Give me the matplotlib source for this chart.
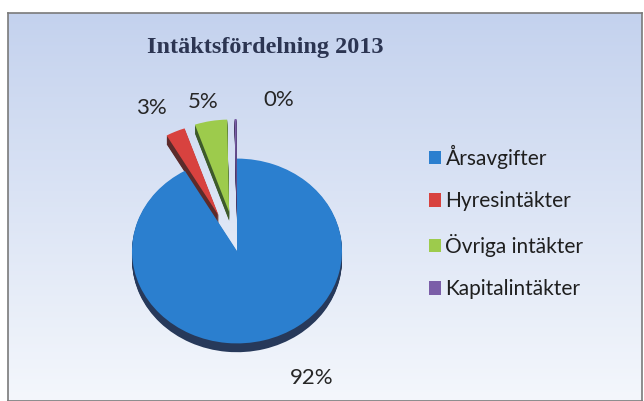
import numpy as np
import matplotlib.pyplot as plt
from matplotlib.colors import LinearSegmentedColormap

# data
categories = ['Årsavgifter', 'Hyresintäkter', 'Övriga intäkter', 'Kapitalintäkter']
shares = [92, 3, 5, 0.3]  # Kapitalintäkter rounds to 0%

colors = ['#2b7fcf', '#d8423f', '#9dcb4c', '#7b5ea8']
side_colors = ['#27395a', '#5c2b2b', '#3d5a2b', '#3a2e58']
explode = [0, 0.44, 0.45, 0.45]

# label positions in pie data units (Excel style placement)
label_pos = [(0.75, -1.44), (-0.86, 1.625), (-0.34, 1.69), (0.42, 1.72)]

W, H = 644, 401
fig = plt.figure(figsize=(W / 100, H / 100), dpi=100)

# chart area with light blue gradient and grey frame
bg = fig.add_axes([8 / W, 0, 1 - 8 / W - 2 / W, (H - 13) / H])
grad = np.linspace(0, 1, 256).reshape(-1, 1)
cmap = LinearSegmentedColormap.from_list('bg', ['#f4f7fc', '#c4d2ee'])
bg.imshow(grad, aspect='auto', cmap=cmap, origin='lower', extent=[0, 1, 0, 1])
bg.set_xticks([])
bg.set_yticks([])
for s in bg.spines.values():
    s.set_color('#7a7a7a')
    s.set_linewidth(1.2)

# pie axes, centre at (237, 251) px
cx, cy = 237, 251
ax = fig.add_axes([(cx - 160) / W, (H - cy - 160) / H, 320 / W, 320 / H])

# side of the 3D pie: stacked dark copies
for d in np.linspace(0.10, 0.01, 10):
    ax.pie(shares, colors=side_colors, explode=explode, startangle=90,
           counterclock=False, radius=1.05, center=(0, -d),
           wedgeprops=dict(linewidth=0))

wedges, _ = ax.pie(shares, colors=colors, explode=explode, startangle=90,
                   counterclock=False, radius=1.05,
                   wedgeprops=dict(linewidth=0))

ax.set_aspect('auto')
ax.set_xlim(-1.6, 1.6)
ax.set_ylim(-1.818, 1.818)
ax.axis('off')

total = sum(shares)
for v, (x, y) in zip(shares, label_pos):
    ax.text(x, y, f'{v / total * 100:.0f}%', ha='center', va='center',
            fontsize=16, family='Lato', color='#262626')

fig.text(265 / W, 1 - 47 / H, 'Intäktsfördelning 2013', ha='center', va='center',
         family='Liberation Serif', fontweight='bold', fontsize=17.5,
         color='#2c3552')

fig.legend(wedges, categories, loc='center left',
           bbox_to_anchor=(410 / W, 1 - 222 / H), frameon=False,
           prop=dict(family='Lato', size=15), handlelength=0.6,
           handleheight=0.6, handletextpad=0.2, labelspacing=1.08,
           labelcolor='#1f1f1f')

fig.savefig('out.png', dpi=100)
